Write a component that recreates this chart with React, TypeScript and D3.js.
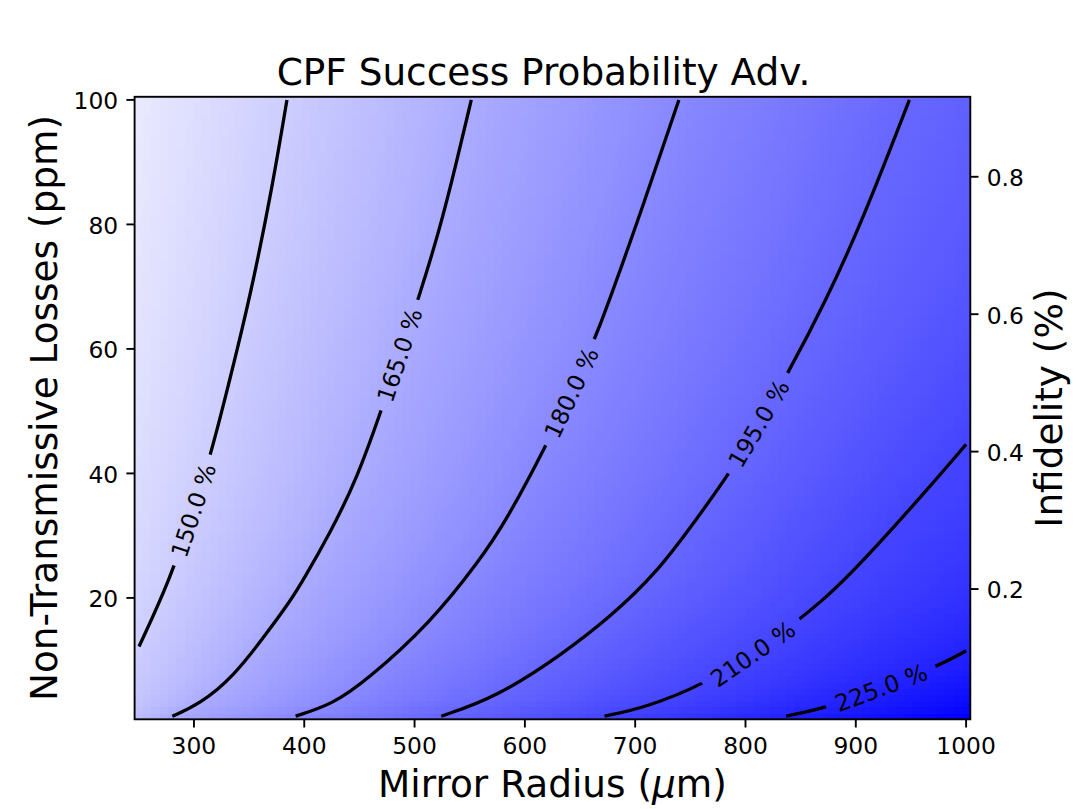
import React from "react";
import * as d3 from "d3";

// ---------- data ----------
const LEVELS = [150, 165, 180, 195, 210, 225];

// contour polylines: [mirror radius (µm), losses (ppm)]
const contour150: [number, number][] = [
  [250.2, 12.2], [278.0, 22.8], [315.8, 43.2], [341.4, 61.4], [354.0, 71.05], [370.5, 85.5], [384.3, 100],
];
const contour165: [number, number][] = [
  [280.4, 1], [305.2, 2.96], [335.3, 7.24], [365.6, 14.22], [387.6, 19.58], [398.8, 22.79], [423.0, 30.3],
  [447.2, 38.9], [469.8, 50.1], [503.0, 67.8], [522.7, 79.1], [537.8, 89.8], [551.4, 100],
];
const contour180: [number, number][] = [
  [392.2, 1], [426.0, 2.96], [456.2, 6.71], [513.6, 15.83], [558.9, 26.0], [583.1, 32.4], [619.4, 44.5],
  [664.7, 61.7], [710.0, 84.45], [739.6, 100],
];
const contour195: [number, number][] = [
  [524.2, 1], [574.1, 4.02], [634.4, 11.0], [677.0, 16.9], [719.1, 23.9], [757.0, 33.0], [785.5, 40.0],
  [838.3, 56.0], [873.1, 67.8], [906.3, 80.7], [948.6, 100],
];
const contour210: [number, number][] = [
  [672.2, 1], [710.0, 2.41], [762.8, 6.17], [873.1, 19.6], [923.5, 29.2],
  [966.8, 37.8], [1000, 44.67],
];
const contour225: [number, number][] = [
  [836.9, 1], [874.6, 2.41], [971.3, 8.75], [1000, 11.5],
];
const CONTOURS = [contour150, contour165, contour180, contour195, contour210, contour225];

// inline label anchors (on each contour)
const LABEL_POINTS: [number, number][] = [
  [299.5, 34.05], [486.4, 59.0], [642.0, 52.95], [812.0, 48.0], [806.6, 11.0], [923.0, 5.58],
];

const X_TICKS = [300, 400, 500, 600, 700, 800, 900, 1000];
const Y_TICKS = [20, 40, 60, 80, 100];
const R_TICKS = [0.2, 0.4, 0.6, 0.8];

const X_DOMAIN: [number, number] = [246.2, 1003.8];
const Y_DOMAIN: [number, number] = [0.5, 100.5];
const R_DOMAIN: [number, number] = [0.0104, 0.9164];
const COLOR_DOMAIN: [number, number] = [128, 240];

const RADIUS_MIN = 250, RADIUS_MAX = 1000, N_COLS = 100;
const LOSS_MIN = 1, LOSS_MAX = 100, N_ROWS = 100;

// ---------- layout ----------
const W = 1079, H = 809;
const L = 134.6, R = 970.3, T = 96.8, B = 719.3;
const FONT = "DejaVu Sans, sans-serif";
const TICK_FS = 23.4;
const LABEL_FS = 37.4;
const TICK_LEN = 8.2;

export default function App() {
  const x = d3.scaleLinear().domain(X_DOMAIN).range([L, R]);
  const y = d3.scaleLinear().domain(Y_DOMAIN).range([B, T]);
  const yr = d3.scaleLinear().domain(R_DOMAIN).range([B, T]);
  const color = d3.scaleLinear<string>().domain(COLOR_DOMAIN).range(["#ffffff", "#0000ff"]).clamp(true);

  // merge label anchors into contours (sorted by loss)
  const merged = CONTOURS.map((c, i) => [...c, LABEL_POINTS[i]].sort((a, b) => a[1] - b[1]));

  // x position of a contour at a given loss (extended linearly past its ends for the field)
  const crossing = (pts: [number, number][], yy: number): number => {
    const n = pts.length;
    let i0 = 0;
    if (yy <= pts[0][1]) i0 = 0;
    else if (yy >= pts[n - 1][1]) i0 = n - 2;
    else {
      for (let i = 0; i < n - 1; i++) {
        if (yy >= pts[i][1] && yy <= pts[i + 1][1]) { i0 = i; break; }
      }
    }
    const [x0, y0] = pts[i0], [x1, y1] = pts[i0 + 1];
    const t = y1 === y0 ? 0 : (yy - y0) / (y1 - y0);
    return x0 + t * (x1 - x0);
  };

  const radii = d3.range(N_COLS).map(i => RADIUS_MIN + (i * (RADIUS_MAX - RADIUS_MIN)) / (N_COLS - 1));
  const losses = d3.range(N_ROWS).map(j => LOSS_MIN + (j * (LOSS_MAX - LOSS_MIN)) / (N_ROWS - 1));
  const dx = (RADIUS_MAX - RADIUS_MIN) / (N_COLS - 1);
  const dy = (LOSS_MAX - LOSS_MIN) / (N_ROWS - 1);

  const cells: JSX.Element[] = [];
  losses.forEach((ly, j) => {
    const cr = LEVELS.map((lv, k) => ({ x: crossing(merged[k], ly), v: lv }));
    cr.sort((a, b) => a.x - b.x);
    const y0 = y(ly + dy / 2), y1 = y(ly - dy / 2);
    radii.forEach((rx, i) => {
      let a = cr[0], b = cr[1];
      if (rx >= cr[cr.length - 1].x) { a = cr[cr.length - 2]; b = cr[cr.length - 1]; }
      else {
        for (let k = 0; k < cr.length - 1; k++) {
          if (rx >= cr[k].x && rx <= cr[k + 1].x) { a = cr[k]; b = cr[k + 1]; break; }
        }
      }
      const v = a.v + ((rx - a.x) * (b.v - a.v)) / (b.x - a.x);
      const x0 = x(rx - dx / 2), x1 = x(rx + dx / 2);
      cells.push(
        <rect key={`${i}-${j}`} x={x0} y={y0} width={x1 - x0 + 0.6} height={y1 - y0 + 0.6}
          fill={color(v)} shapeRendering="crispEdges" />
      );
    });
  });

  const line = d3.line<[number, number]>()
    .x(d => x(d[0])).y(d => y(d[1]))
    .curve(d3.curveBasis);

  const labels = merged.map((pts, i) => {
    const lp = LABEL_POINTS[i];
    const idx = pts.findIndex(p => p === lp);
    const p0 = pts[Math.max(0, idx - 1)], p1 = pts[Math.min(pts.length - 1, idx + 1)];
    let ang = (Math.atan2(y(p1[1]) - y(p0[1]), x(p1[0]) - x(p0[0])) * 180) / Math.PI;
    if (ang > 90) ang -= 180;
    if (ang < -90) ang += 180;
    return { px: x(lp[0]), py: y(lp[1]), ang, text: `${LEVELS[i].toFixed(1)} %` };
  });
  const textW = 4.13 * TICK_FS;
  const gapW = textW + 20;

  return (
    <svg width={W} height={H} style={{ position: "absolute", left: 0, top: 0, background: "#fff" }}
      fontFamily={FONT}>
      <defs>
        <clipPath id="plotClip"><rect x={L} y={T} width={R - L} height={B - T} /></clipPath>
        <mask id="gapMask" maskUnits="userSpaceOnUse" x={0} y={0} width={W} height={H}>
          <rect x={0} y={0} width={W} height={H} fill="#fff" />
          {labels.map((lb, i) => (
            <rect key={i} x={-gapW / 2} y={-14} width={gapW} height={28} fill="#000"
              transform={`translate(${lb.px},${lb.py}) rotate(${lb.ang})`} />
          ))}
        </mask>
      </defs>
      <rect x={0} y={0} width={W} height={H} fill="#fff" />
      <g clipPath="url(#plotClip)">{cells}</g>
      <g clipPath="url(#plotClip)">
        <g mask="url(#gapMask)">
          {merged.map((pts, i) => (
            <path key={i} d={line(pts) || ""} fill="none" stroke="#000" strokeWidth={3.3}
              strokeLinecap="butt" strokeLinejoin="round" />
          ))}
        </g>
      </g>
      {labels.map((lb, i) => (
        <text key={i} transform={`translate(${lb.px},${lb.py}) rotate(${lb.ang})`} textAnchor="middle"
          dy="0.36em" fontSize={TICK_FS} fill="#000">{lb.text}</text>
      ))}
      <rect x={L} y={T} width={R - L} height={B - T} fill="none" stroke="#000" strokeWidth={1.9} />
      {X_TICKS.map(t => (
        <g key={t}>
          <line x1={x(t)} x2={x(t)} y1={B} y2={B + TICK_LEN} stroke="#000" strokeWidth={1.9} />
          <text x={x(t)} y={B + 34.5} textAnchor="middle" fontSize={TICK_FS}>{t}</text>
        </g>
      ))}
      {Y_TICKS.map(t => (
        <g key={t}>
          <line x1={L - TICK_LEN} x2={L} y1={y(t)} y2={y(t)} stroke="#000" strokeWidth={1.9} />
          <text x={L - 16.4} y={y(t)} dy="0.4em" textAnchor="end" fontSize={TICK_FS}>{t}</text>
        </g>
      ))}
      {R_TICKS.map(t => (
        <g key={t}>
          <line x1={R} x2={R + TICK_LEN} y1={yr(t)} y2={yr(t)} stroke="#000" strokeWidth={1.9} />
          <text x={R + 16.4} y={yr(t)} dy="0.4em" textAnchor="start" fontSize={TICK_FS}>{t.toFixed(1)}</text>
        </g>
      ))}
      <text x={543.5} y={85} textAnchor="middle" fontSize={LABEL_FS}>CPF Success Probability Adv.</text>
      <text x={(L + R) / 2} y={797} textAnchor="middle" fontSize={LABEL_FS}>
        Mirror Radius (<tspan fontStyle="italic">μ</tspan>m)
      </text>
      <text transform={`translate(57,${(T + B) / 2}) rotate(-90)`} textAnchor="middle" fontSize={LABEL_FS}>
        Non-Transmissive Losses (ppm)
      </text>
      <text transform={`translate(1062,${(T + B) / 2}) rotate(-90)`} textAnchor="middle" fontSize={LABEL_FS}>
        Infidelity (%)
      </text>
    </svg>
  );
}
